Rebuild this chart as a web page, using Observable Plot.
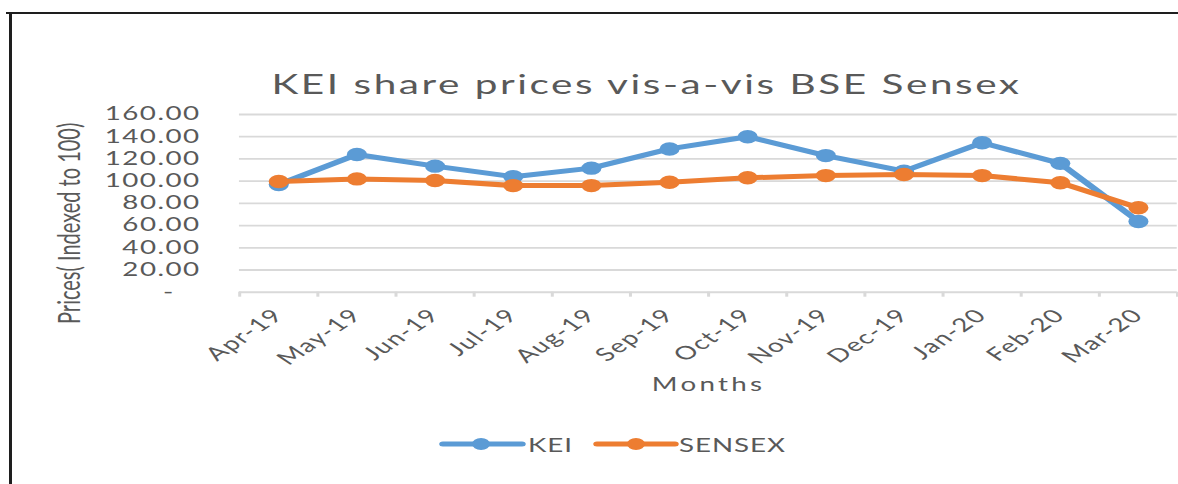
<!DOCTYPE html>
<html><head><meta charset="utf-8">
<script src="https://cdn.jsdelivr.net/npm/d3@7"></script>
<script src="https://cdn.jsdelivr.net/npm/@observablehq/plot@0.6"></script>
<style>
html,body{margin:0;padding:0;background:#fff;overflow:hidden}
body{width:1178px;height:484px;position:relative}
#wrap{position:absolute;left:0;top:0;width:785.33px;height:484px;transform:scaleX(1.5);transform-origin:0 0;font-family:Lato,"Open Sans",sans-serif;color:#595959}
.bt{position:absolute;left:3.5px;top:12px;width:790px;height:2px;background:#1e1e1e}
.bl{position:absolute;left:6.4px;top:12px;width:1.4px;height:480px;background:#1e1e1e}
#title{position:absolute;left:431px;top:67.7px;transform:translateX(-50%);white-space:nowrap;font-size:27px;line-height:1.2;letter-spacing:1.7px;color:#595959}
#chart{position:absolute;left:0;top:100px}
#legend{position:absolute;left:0;top:420px}
.ylab text{letter-spacing:1px}
.xlab text{letter-spacing:1.1px}
.mlab text{letter-spacing:2.2px}
</style></head><body>
<div id="wrap">
  <div class="bt"></div><div class="bl"></div>
  <div id="title">KEI share prices vis-a-vis BSE Sensex</div>
  <div id="chart"></div>
  <div id="legend"></div>
</div>
<script>
const months = ["Apr-19","May-19","Jun-19","Jul-19","Aug-19","Sep-19","Oct-19","Nov-19","Dec-19","Jan-20","Feb-20","Mar-20"];
const kei    = [97, 124, 113.5, 104, 111.7, 129, 140, 123, 109, 134.6, 116, 63.7];
const sensex = [99.7, 102, 100.6, 96, 96, 99, 103, 105, 106, 105, 98.5, 76];
const yTicks = [0, 20, 40, 60, 80, 100, 120, 140, 160];
const seriesNames = ["KEI", "SENSEX"];
const seriesColors = ["#5B9BD5", "#ED7D31"];
const titleText = "KEI share prices vis-a-vis BSE Sensex";
const xTitle = "Months";
const yTitle = "Prices( Indexed to 100)";

const seriesValues = [kei, sensex];
const rows = seriesNames.map((s, k) => months.map((m, i) => ({month: m, pos: i + 0.5, value: seriesValues[k][i], series: s})));

const seriesMarks = [];
rows.forEach((r, k) => {
  seriesMarks.push(Plot.line(r, {x: "pos", y: "value", stroke: seriesColors[k], strokeWidth: 5, strokeLinejoin: "round", strokeLinecap: "round"}));
  seriesMarks.push(Plot.dot(r, {x: "pos", y: "value", fill: seriesColors[k], r: 6.7, stroke: "none"}));
});

const chart = Plot.plot({
  width: 785, height: 300,
  marginLeft: 159.3, marginRight: 0.5, marginTop: 14, marginBottom: 108.3,
  style: {fontFamily: "Lato, 'Open Sans', sans-serif", color: "#595959", background: "transparent", overflow: "visible"},
  x: {type: "linear", domain: [0, months.length]},
  y: {domain: [0, 160]},
  marks: [
    Plot.gridY(yTicks.filter(d => d > 0), {stroke: "#d9d9d9", strokeOpacity: 1, strokeWidth: 1.8}),
    Plot.ruleY([0], {stroke: "#d9d9d9", strokeWidth: 2}),
    Plot.axisX(d3.range(months.length + 1), {tickSize: 5, tickFormat: () => "", stroke: "#d9d9d9", strokeWidth: 2, strokeOpacity: 1, label: null}),
    Plot.axisX(months.map((m, i) => i + 0.5), {className: "xlab", tickSize: 0, tickRotate: -45, tickPadding: 20, tickFormat: d => months[Math.round(d - 0.5)], fontSize: 18.5, label: null, fill: "#595959"}),
    Plot.axisY(yTicks, {className: "ylab", tickSize: 0, tickPadding: 26, tickFormat: d => d === 0 ? "-\u00a0\u00a0\u00a0" : d.toFixed(2), fontSize: 18.5, label: null, fill: "#595959"}),
    ...seriesMarks,
    Plot.text([xTitle], {className: "mlab", text: d => d, frameAnchor: "bottom", dy: 93.3, fontSize: 18.5, fill: "#595959", lineAnchor: "middle"}),
    Plot.text([yTitle], {text: d => d, frameAnchor: "left", textAnchor: "middle", rotate: -90, dx: -112.6, dy: 20, fontSize: 20, fill: "#595959", lineAnchor: "middle"})
  ]
});
document.getElementById("chart").appendChild(chart);
document.getElementById("title").textContent = titleText;

// legend
const ns = "http://www.w3.org/2000/svg";
const lg = document.createElementNS(ns, "svg");
lg.setAttribute("width", 785); lg.setAttribute("height", 50);
const legendItems = [{x0: 295.3, x1: 348, mx: 320.7, tx: 352}, {x0: 398, x1: 450, mx: 424, tx: 452.7}];
seriesNames.forEach((s, k) => {
  const it = legendItems[k];
  const ln = document.createElementNS(ns, "line");
  ln.setAttribute("x1", it.x0); ln.setAttribute("x2", it.x1); ln.setAttribute("y1", 24); ln.setAttribute("y2", 24);
  ln.setAttribute("stroke", seriesColors[k]); ln.setAttribute("stroke-width", 5); ln.setAttribute("stroke-linecap", "round");
  lg.appendChild(ln);
  const c = document.createElementNS(ns, "circle");
  c.setAttribute("cx", it.mx); c.setAttribute("cy", 24); c.setAttribute("r", 6); c.setAttribute("fill", seriesColors[k]);
  lg.appendChild(c);
  const t = document.createElementNS(ns, "text");
  t.setAttribute("x", it.tx); t.setAttribute("y", 31.7);
  t.setAttribute("font-size", 18.5); t.setAttribute("fill", "#595959");
  t.setAttribute("font-family", "Lato, 'Open Sans', sans-serif");
  t.setAttribute("letter-spacing", "0.6");
  t.textContent = s;
  lg.appendChild(t);
});
document.getElementById("legend").appendChild(lg);
</script>
</body></html>
